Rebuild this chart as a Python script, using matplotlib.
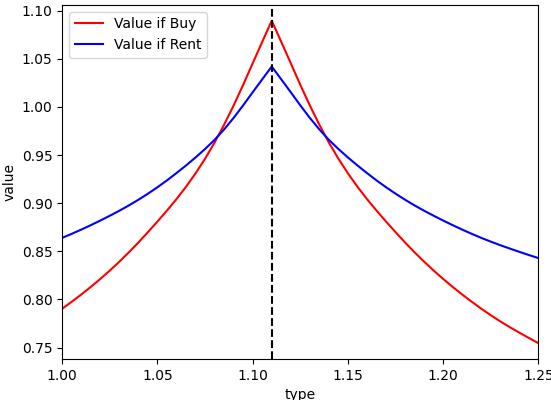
"""Value if buy vs value if rent across types, with the break point marked."""
import matplotlib
matplotlib.use("Agg")
import matplotlib.pyplot as plt

# type grid (step 0.005)
types = [1.000, 1.005, 1.010, 1.015, 1.020, 1.025, 1.030, 1.035, 1.040, 1.045,
         1.050, 1.055, 1.060, 1.065, 1.070, 1.075, 1.080, 1.085, 1.090, 1.095,
         1.100, 1.105, 1.110, 1.115, 1.120, 1.125, 1.130, 1.135, 1.140, 1.145,
         1.150, 1.155, 1.160, 1.165, 1.170, 1.175, 1.180, 1.185, 1.190, 1.195,
         1.200, 1.205, 1.210, 1.215, 1.220, 1.225, 1.230, 1.235, 1.240, 1.245,
         1.250]

value_buy = [0.7905, 0.7977, 0.8052, 0.8131, 0.8214, 0.8301, 0.8393, 0.8490,
             0.8592, 0.8700, 0.8810, 0.8924, 0.9043, 0.9171, 0.9310, 0.9462,
             0.9630, 0.9815, 1.0015, 1.0229, 1.0453, 1.0675, 1.0895,
             1.0675, 1.0453, 1.0229, 1.0015, 0.9815, 0.9630, 0.9462, 0.9310,
             0.9171, 0.9043, 0.8924, 0.8810, 0.8700, 0.8592, 0.8490, 0.8393,
             0.8301, 0.8214, 0.8131, 0.8052, 0.7977, 0.7905,
             0.7837, 0.7773, 0.7713, 0.7656, 0.7601, 0.7547]

value_rent = [0.8640, 0.8682, 0.8726, 0.8772, 0.8820, 0.8870, 0.8922, 0.8977,
              0.9036, 0.9099, 0.9166, 0.9237, 0.9313, 0.9392, 0.9475, 0.9563,
              0.9658, 0.9766, 0.9886, 1.0016, 1.0152, 1.0286, 1.0419,
              1.0286, 1.0152, 1.0016, 0.9886, 0.9766, 0.9658, 0.9563, 0.9475,
              0.9392, 0.9313, 0.9237, 0.9166, 0.9099, 0.9036, 0.8977, 0.8922,
              0.8870, 0.8820, 0.8772, 0.8726, 0.8682, 0.8640,
              0.8601, 0.8564, 0.8529, 0.8495, 0.8462, 0.8430]

break_type = 1.11

fig, ax = plt.subplots(figsize=(5.51, 4.0), dpi=100)
ax.plot(types, value_buy, color="r", label="Value if Buy")
ax.plot(types, value_rent, color="b", label="Value if Rent")
ax.axvline(break_type, color="k", linestyle="--")
ax.set_xlim(1.0, 1.25)
ax.set_ylim(0.738, 1.106)
ax.set_xlabel("type")
ax.set_ylabel("value")
ax.legend(loc="upper left")
fig.subplots_adjust(left=0.113, right=0.977, bottom=0.102, top=0.988)
fig.savefig("out.png", dpi=100)
